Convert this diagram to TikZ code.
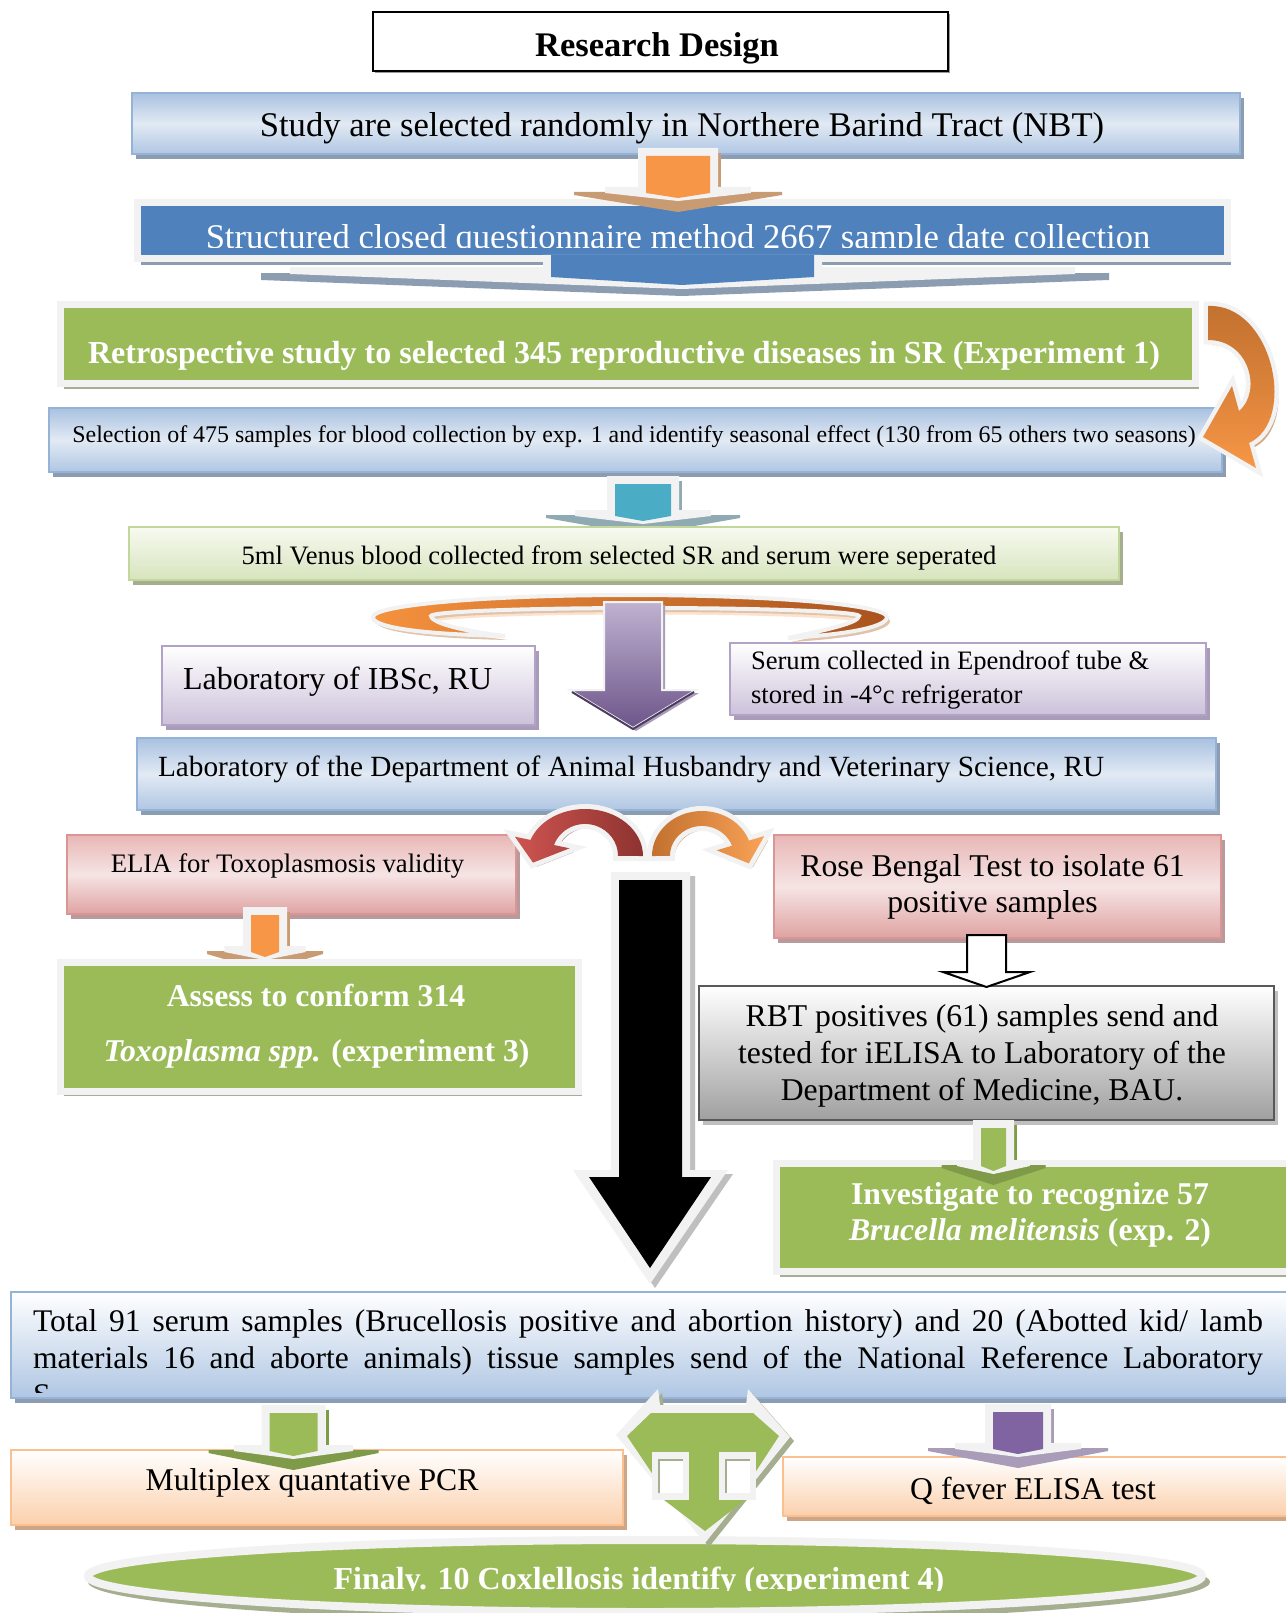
\documentclass[tikz,border=0pt]{standalone}
\usepackage{fontspec}
\setmainfont{Liberation Serif}
\usetikzlibrary{shadows}
\definecolor{cLGray}{HTML}{F2F2F2}
\definecolor{cOrng}{HTML}{F79646}
\definecolor{cTan}{HTML}{C99B72}
\definecolor{cBlu}{HTML}{4F81BD}
\definecolor{cBluBorder}{HTML}{95B3D7}
\definecolor{cBluShadow}{HTML}{8C9CB1}
\definecolor{cBluTop}{HTML}{A9C1E0}
\definecolor{cBluMid}{HTML}{E2EAF4}
\definecolor{cBluBot}{HTML}{AFC6E3}
\definecolor{cGrn}{HTML}{9BBB59}
\definecolor{cGrnShadow}{HTML}{A5AE8E}
\definecolor{cGrnDark}{HTML}{7F9A48}
\definecolor{cTeal}{HTML}{4BACC6}
\definecolor{cTealShadow}{HTML}{8FAAB2}
\definecolor{cPur}{HTML}{8064A2}
\definecolor{cPurShadow}{HTML}{A89CB8}
\definecolor{cPurBorder}{HTML}{B3A2C7}
\definecolor{cPurBot}{HTML}{CCC1DA}
\definecolor{cPinkTop}{HTML}{E8B7B6}
\definecolor{cPinkMid}{HTML}{F6E4E4}
\definecolor{cPinkBot}{HTML}{DFA3A2}
\definecolor{cPinkBorder}{HTML}{D99694}
\definecolor{cPinkShadow}{HTML}{B99A9C}
\definecolor{cPeachBot}{HTML}{FBD0AC}
\definecolor{cPeachBorder}{HTML}{FAC090}
\definecolor{cPeachShadow}{HTML}{CDA688}
\definecolor{cLGrnTop}{HTML}{F7FAF1}
\definecolor{cLGrnBot}{HTML}{D7E4BD}
\definecolor{cLGrnBorder}{HTML}{C3D69B}
\definecolor{cGrayBot}{HTML}{A0A0A0}
\definecolor{cRingL}{HTML}{F5923E}
\definecolor{cRingR}{HTML}{A9531E}
\definecolor{cRedL}{HTML}{CD5450}
\definecolor{cRedR}{HTML}{8E3330}
\definecolor{cRedShadow}{HTML}{B48A8C}
\definecolor{cOrDark}{HTML}{C2712F}
\definecolor{cOrLight}{HTML}{F9A257}
\definecolor{cOrShadow}{HTML}{D2A985}
\newcommand\myfs[1]{\fontsize{#1}{#1}\selectfont}
\newcommand\mkbox[6]{\node[#2, minimum width={(#5)-(#3)}, minimum height={(#6)-(#4)}] (#1) at ({((#3)+(#5))/2},{((#4)+(#6))/2}) {};}
\newcommand\flatarrow[7]{%
 \fill[#7] ({#1-#5},{#3+5}) -- ({#1+#5},{#3+5}) -- ({#1+#5},{#3+8}) -- (#1,{#3+25}) -- ({#1-#5},{#3+8}) -- cycle;
 \fill[#7] ({#1+#4+8},{#2+5}) rectangle ({#1+#4+11},#3);
 \fill[cLGray] ({#1-#4-8},#2) -- ({#1+#4+8},#2) -- ({#1+#4+8},#3) -- ({#1+0.7*#5},#3) -- ({#1+0.7*#5},{#3+6}) -- (#1,{#3+14}) -- ({#1-0.7*#5},{#3+6}) -- ({#1-0.7*#5},#3) -- ({#1-#4-8},#3) -- cycle;
 \fill[#6] ({#1-#4},{#2+8}) -- ({#1+#4},{#2+8}) -- ({#1+#4},{#3+6}) -- (#1,{#3+11}) -- ({#1-#4},{#3+6}) -- cycle;
}
\newcommand\rightcurve{(1208,306) .. controls (1272,303) and (1298,420) .. (1249,443) -- (1256,468) -- (1203,437) -- (1232,386) -- (1239,411) .. controls (1262,392) and (1250,340) .. (1208,340) -- cycle}
\newcommand\ringpath{(505,636) .. controls (410,634) and (372,626) .. (373,617) arc[start angle=180,end angle=360,x radius=257,y radius=22] .. controls (887,628) and (840,635) .. (788,638) .. controls (830,629) and (858,623) .. (859,616) arc[start angle=0,end angle=-180,x radius=214,y radius=8] .. controls (432,624) and (470,632) .. (505,636) -- cycle}
\newcommand\redcurve{(643,856) arc[start angle=0, end angle=-160, x radius=58, y radius=47] -- (514.9,836.7) -- (533,862.6) -- (569.6,848.3) -- (554,845) arc[start angle=-160, end angle=0, x radius=33, y radius=32] -- cycle}
\newcommand\orcurve{(652,856) arc[start angle=180, end angle=340, x radius=50, y radius=45] -- (764.3,836) -- (748.8,863.4) -- (716.7,850.3) -- (732,845.7) arc[start angle=340, end angle=180, x radius=32, y radius=30] -- cycle}
\tikzset{
 boxbase/.style={inner sep=0pt, outer sep=0pt},
 blugrad/.style={boxbase, top color=cBluTop, bottom color=cBluBot, middle color=cBluMid, draw=cBluBorder, line width=1.5pt, drop shadow={shadow xshift=4pt, shadow yshift=-5pt, fill=cBluShadow, opacity=1}},
 bluwhite/.style={boxbase, top color=white, bottom color=cBluBot, draw=cBluBorder, line width=1.5pt, drop shadow={shadow xshift=4pt, shadow yshift=-5pt, fill=cBluShadow, opacity=1}},
 frameblu/.style={boxbase, fill=cBlu, draw=cLGray, line width=7pt, drop shadow={shadow xshift=3pt, shadow yshift=-6pt, fill=cBluShadow, opacity=1}},
 framegrn/.style={boxbase, fill=cGrn, draw=cLGray, line width=7pt, drop shadow={shadow xshift=3pt, shadow yshift=-5pt, fill=cGrnShadow, opacity=1}},
 lgrnbox/.style={boxbase, top color=cLGrnTop, bottom color=cLGrnBot, draw=cLGrnBorder, line width=2pt, drop shadow={shadow xshift=4pt, shadow yshift=-5pt, fill=cGrnShadow, opacity=1}},
 purbox/.style={boxbase, top color=white, bottom color=cPurBot, draw=cPurBorder, line width=2pt, drop shadow={shadow xshift=4pt, shadow yshift=-5pt, fill=cPurShadow, opacity=1}},
 pinkbox/.style={boxbase, top color=cPinkTop, bottom color=cPinkBot, middle color=cPinkMid, draw=cPinkBorder, line width=1.5pt, drop shadow={shadow xshift=4pt, shadow yshift=-5pt, fill=cPinkShadow, opacity=1}},
 graybox/.style={boxbase, top color=white, bottom color=cGrayBot, draw=black!65, line width=2.5pt, drop shadow={shadow xshift=4pt, shadow yshift=-5pt, fill=black!25, opacity=1}},
 peachbox/.style={boxbase, top color=white, bottom color=cPeachBot, draw=cPeachBorder, line width=2.5pt, drop shadow={shadow xshift=4pt, shadow yshift=-5pt, fill=cPeachShadow, opacity=1}},
 titlebox/.style={boxbase, fill=white, draw=black, line width=2pt, drop shadow={shadow xshift=2pt, shadow yshift=-2pt, fill=black!40, opacity=1}},
 txt/.style={inner sep=0pt, outer sep=0pt, anchor=base},
 ltxt/.style={inner sep=0pt, outer sep=0pt, anchor=base west},
}
\begin{document}
\begin{tikzpicture}[x=1pt,y=-1pt]
\useasboundingbox (0,0) rectangle (1285,1613);
\fill[white] (0,0) rectangle (1285,1613);

% title
\mkbox{title}{titlebox}{373}{12}{948}{71}
\node[txt, font=\bfseries\myfs{34.5}] (ttitle) at (657,56.5) {Research Design};

% box 1
\mkbox{b1}{blugrad}{132}{93}{1240}{154}
\node[txt, font=\myfs{34.6}] (t1) at (682,136.5) {Study are selected randomly in Northere Barind Tract (NBT)};

% box 2
\mkbox{b2}{frameblu}{137.5}{202.5}{1227.5}{258.5}
\begin{scope}
\clip (141,206) rectangle (1223,248);
\node[txt, text=white, font=\myfs{34.6}] (t2) at (678,249) {Structured closed questionnaire method 2667 sample date collection};
\end{scope}

% orange arrow 1
\flatarrow{678}{148}{187}{32}{104}{cOrng}{cTan}

% blue wide arrow
\fill[cBluShadow] (261,273) -- (1109,273) -- (1109,280) -- (682,296) -- (261,280) -- cycle;
\fill[cLGray] (543,255) -- (822,255) -- (822,267) -- (1075,267) -- (1075,274) -- (682,289) -- (290,274) -- (290,267) -- (543,267) -- cycle;
\fill[cBlu] (551,255) -- (814,255) -- (814,277) -- (682,285) -- (551,277) -- cycle;

% box 3
\mkbox{b3}{framegrn}{60.5}{304}{1195.5}{383.5}
\node[txt, text=white, font=\bfseries\myfs{32}] (t3) at (624,363) {Retrospective study to selected 345 reproductive diseases in SR (Experiment 1)};

% box 4
\mkbox{b4}{blugrad}{49}{408}{1222}{472}
\node[txt, font=\myfs{23.9}] (t4) at (634,442) {Selection of 475 samples for blood collection by exp. 1 and identify seasonal effect (130 from 65 others two seasons)};

% curved orange arrow right
\fill[cOrShadow, shift={(4,5)}] \rightcurve;
\path[draw=cLGray, line width=9pt, line join=miter, fill=cLGray] \rightcurve;
\path[top color=cOrDark, bottom color=cOrng, middle color=cOrDark!55!cOrng] \rightcurve;

% teal arrow
\flatarrow{643}{476}{510}{28}{97}{cTeal}{cTealShadow}

% box 5
\mkbox{b5}{lgrnbox}{129}{527}{1119}{580}
\node[txt, font=\myfs{26.6}] (t5) at (619,564) {5ml Venus blood collected from selected SR and serum were seperated};

% ring arrow
\draw[line width=7pt, color=cPeachBot!60!white] (434,619) arc[start angle=180, end angle=360, x radius=211, y radius=8];
\fill[cOrShadow!70!white, shift={(3,4)}] \ringpath;
\path[draw=cLGray, line width=4pt, left color=cRingL, right color=cRingR] \ringpath;

% purple big arrow
\fill[cPurShadow, shift={(3,3)}] (604,602) -- (662,602) -- (662,690) -- (696,690) -- (633,728) -- (570,690) -- (604,690) -- cycle;
\path[top color=cPur!50!white, bottom color=cPur!85!black, draw=cLGray, line width=2pt] (604,602) -- (662,602) -- (662,690) -- (696,690) -- (633,728) -- (570,690) -- (604,690) -- cycle;
\draw[cPur!60!black, line width=2pt] (572,692) -- (633,729) -- (694,692);

% boxes 6, 7
\mkbox{b6}{purbox}{162}{646}{535}{725}
\node[ltxt, font=\myfs{32}] (t6) at (183,689) {Laboratory of IBSc, RU};
\mkbox{b7}{purbox}{730}{643}{1206}{715}
\node[ltxt, font=\myfs{26.6}] (t7a) at (751,669) {Serum collected in Ependroof tube \&};
\node[ltxt, font=\myfs{26.6}] (t7b) at (751,703) {stored in -4°c refrigerator};

% box 8
\mkbox{b8}{blugrad}{137}{738}{1216}{810}
\node[ltxt, font=\myfs{29.3}] (t8) at (158,776) {Laboratory of the Department of Animal Husbandry and Veterinary Science, RU};

% boxes 9, 10
\mkbox{b9}{pinkbox}{67}{835}{516}{914}
\node[txt, font=\myfs{26.7}] (t9) at (287.5,872) {ELIA for Toxoplasmosis validity};
\mkbox{b10}{pinkbox}{774}{835}{1221}{938}
\node[txt, font=\myfs{31.7}] (t10a) at (992.5,876) {Rose Bengal Test to isolate 61};
\node[txt, font=\myfs{31.7}] (t10b) at (992.5,912) {positive samples};

% red curved arrow
\fill[cRedShadow, shift={(4,4)}] \redcurve;
\path[draw=cLGray, line width=10pt, line join=miter, fill=cLGray] \redcurve;
\path[left color=cRedL, right color=cRedR] \redcurve;
% orange curved arrow
\fill[cOrShadow, shift={(4,4)}] \orcurve;
\path[draw=cLGray, line width=10pt, line join=miter, fill=cLGray] \orcurve;
\path[left color=cOrDark, right color=cOrLight] \orcurve;

% black arrow
\fill[black!25, shift={(5,4)}] (611,872) -- (690,872) -- (690,1170) -- (728,1170) -- (650,1284) -- (573,1170) -- (611,1170) -- cycle;
\fill[cLGray] (611,872) -- (690,872) -- (690,1170) -- (728,1170) -- (650,1284) -- (573,1170) -- (611,1170) -- cycle;
\fill[black] (619,880) -- (682,880) -- (682,1177) -- (711,1177) -- (650,1268) -- (589,1177) -- (619,1177) -- cycle;

% orange arrow 2 and box 11
\flatarrow{265}{907}{946}{14}{58}{cOrng}{cTan}
\mkbox{b11}{framegrn}{60.5}{962}{578.5}{1091}
\node[txt, text=white, font=\bfseries\myfs{31.7}] (t11a) at (316,1006) {Assess to conform 314};
\node[txt, text=white, font=\bfseries\myfs{31.7}] (t11b) at (316.5,1061) {\textit{Toxoplasma spp.} (experiment 3)};

% box 12 and white arrow
\mkbox{b12}{graybox}{699}{986}{1274}{1120}
\path[fill=white, draw=black, line width=2pt, line join=miter] (967,935) -- (1006,935) -- (1006,972) -- (1030,972) -- (986.5,987) -- (943,972) -- (967,972) -- cycle;
\node[txt, font=\myfs{31.7}] (t12a) at (982,1026) {RBT positives (61) samples send and};
\node[txt, font=\myfs{31.7}] (t12b) at (982,1063) {tested for iELISA to Laboratory of the};
\node[txt, font=\myfs{31.7}] (t12c) at (982,1100) {Department of Medicine, BAU.};

% box 13 and green arrow
\mkbox{b13}{framegrn}{776.5}{1163.5}{1300}{1271.5}
\flatarrow{993.5}{1120}{1160}{12.5}{52}{cGrn}{cGrnDark}
\node[txt, text=white, font=\bfseries\myfs{31.7}] (t13a) at (1030,1204) {Investigate to recognize 57};
\node[txt, text=white, font=\bfseries\myfs{31.7}] (t13b) at (1030,1240) {\textit{Brucella melitensis} (exp. 2)};

% box 14
\mkbox{b14}{bluwhite}{11}{1292}{1300}{1398}
\node[ltxt, font=\myfs{31.5}] (t14a) at (33,1331) {\makebox[1230pt][s]{Total 91 serum samples (Brucellosis positive and abortion history) and 20 (Abotted kid/ lamb}};
\node[ltxt, font=\myfs{31.5}] (t14b) at (33,1368) {\makebox[1230pt][s]{materials 16 and aborte animals) tissue samples send of the National Reference Laboratory}};
\begin{scope}
\clip (20,1380) rectangle (200,1392);
\node[ltxt, font=\myfs{31.5}] (t14c) at (33,1405) {S};
\end{scope}

% boxes 15, 16 and arrows
\mkbox{b15}{peachbox}{11}{1450}{623}{1525}
\mkbox{b16}{peachbox}{783}{1457}{1300}{1516}
\flatarrow{293.5}{1405}{1445}{24}{85}{cGrn}{cGrnDark}
\flatarrow{1018}{1404}{1443}{25}{90}{cPur}{cPurShadow}
\node[txt, font=\myfs{31.7}] (t15) at (312,1490) {Multiplex quantative PCR};
\node[txt, font=\myfs{31.7}] (t16) at (1033,1499) {Q fever ELISA test};

% final ellipse
\fill[cGrnShadow] (649,1582) ellipse[x radius=561, y radius=40];
\path[fill=cGrn, draw=cLGray, line width=8pt] (645,1576) ellipse[x radius=557, y radius=36];
\node[inner sep=0pt, minimum width=1114pt, minimum height=72pt] (b17) at (645,1576) {};
\begin{scope}
\clip (100,1540) rectangle (1200,1590);
\node[txt, text=white, font=\bfseries\myfs{32}] (t17) at (639,1589) {Finaly. 10 Coxlellosis identify (experiment 4)};
\end{scope}

% central green T shape
\fill[cGrnShadow, shift={(4,4)}] (658,1389) -- (660,1405) -- (746,1405) -- (748,1389) -- (790,1437) -- (705,1543) -- (616,1435) -- cycle;
\fill[cLGray] (658,1389) -- (660,1405) -- (746,1405) -- (748,1389) -- (790,1437) -- (705,1543) -- (616,1435) -- cycle;
\fill[cGrn] (651,1413) -- (753,1413) -- (779,1436) -- (747,1485) -- (745,1500) -- (705,1531) -- (664,1500) -- (660,1485) -- (627,1436) -- cycle;
\fill[cLGray] (652,1452) rectangle (689,1500);
\fill[cLGray] (719,1452) rectangle (756,1500);
\fill[cGrnShadow] (658,1459) rectangle (683,1493);
\fill[cGrnShadow] (725,1459) rectangle (750,1493);
\fill[white] (660,1461) rectangle (683,1493);
\fill[white] (727,1461) rectangle (750,1493);
\end{tikzpicture}
\end{document}
